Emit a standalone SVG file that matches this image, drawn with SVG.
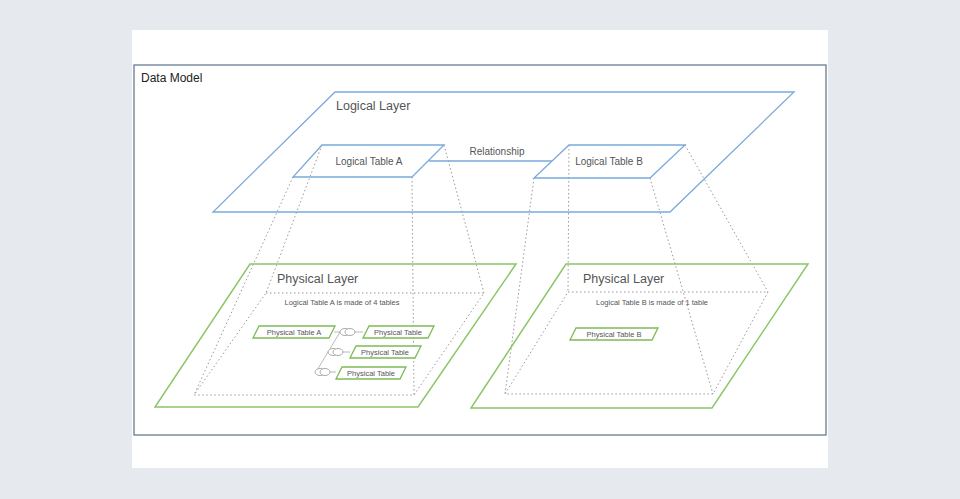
<svg xmlns="http://www.w3.org/2000/svg" width="960" height="499" viewBox="0 0 960 499">
<style>
text{font-family:"Liberation Sans",Arial,sans-serif;fill:#555}
.b{fill:none;stroke:#7aaadb;stroke-width:1.3}
.g{fill:none;stroke:#8cc56a;stroke-width:1.5}
.pt{fill:#fff;stroke:#7dbb55;stroke-width:1.3}
.d{fill:none;stroke:#999;stroke-width:1;stroke-dasharray:1.5 2.5}
.c{fill:#fff;stroke:#aaa;stroke-width:1}
.s{font-size:7.5px}
</style>
<rect width="960" height="499" fill="#e6eaee"/>
<rect x="132" y="30" width="696" height="438" fill="#fff"/>
<rect x="134" y="65" width="692" height="370" fill="none" stroke="#5a7088" stroke-width="1.2"/>
<text x="141" y="82" font-size="12" style="fill:#222">Data Model</text>
<g id="logical-layer"><polygon class="b" points="335,92 794,92 670,212 213,212"/><text x="336" y="110" font-size="12.5">Logical Layer</text></g>
<g id="connectors">
<line x1="429" y1="161" x2="552" y2="161" stroke="#7aaadb" stroke-width="1.3"/>
<line class="d" x1="322" y1="145" x2="266" y2="293"/>
<line class="d" x1="293" y1="177" x2="194" y2="395"/>
<line class="d" x1="412" y1="177" x2="414" y2="395"/>
<line class="d" x1="444" y1="145" x2="484" y2="293"/>
<line class="d" x1="569" y1="145" x2="568" y2="292"/>
<line class="d" x1="534" y1="178" x2="505" y2="394"/>
<line class="d" x1="650" y1="178" x2="713" y2="394"/>
<line class="d" x1="685" y1="145" x2="768" y2="292"/>
<g stroke="#bbb" stroke-width="1" fill="none">
<polyline points="334,332 363,332"/><polyline points="340,332 316,372 336,372"/><polyline points="328,352 350,352"/>
</g>
<g><ellipse class="c" cx="345" cy="332" rx="5" ry="3.5"/><ellipse class="c" cx="350" cy="332" rx="5" ry="3.5"/>
<ellipse class="c" cx="333" cy="352" rx="5" ry="3.5"/><ellipse class="c" cx="338" cy="352" rx="5" ry="3.5"/>
<ellipse class="c" cx="320" cy="372" rx="5" ry="3.5"/><ellipse class="c" cx="325" cy="372" rx="5" ry="3.5"/></g>
</g>
<text x="497" y="155" font-size="10" text-anchor="middle">Relationship</text>
<g id="logical-table-a"><polygon class="b" points="322,145 444,145 412,177 293,177" fill="#fff"/><text x="369" y="165" font-size="10" text-anchor="middle">Logical Table A</text></g>
<g id="logical-table-b"><polygon class="b" points="569,145 685,145 650,178 534,178" fill="#fff"/><text x="609" y="165" font-size="10" text-anchor="middle">Logical Table B</text></g>
<g id="physical-layer-a"><polygon class="g" points="250,264 516,264 418,407 155,407"/><text x="277" y="283" font-size="12.5">Physical Layer</text>
<polygon class="d" points="266,293 484,293 414,395 194,395"/><text x="342" y="305" class="s" text-anchor="middle">Logical Table A is made of 4 tables</text></g>
<g id="physical-layer-b"><polygon class="g" points="566,264 808,264 712,408 471,408"/><text x="583" y="283" font-size="12.5">Physical Layer</text>
<polygon class="d" points="568,292 768,292 713,394 505,394"/><text x="652" y="305" class="s" text-anchor="middle">Logical Table B is made of 1 table</text></g>
<g id="physical-table-a"><polygon class="pt" points="259,326 335,326 329,338 253,338"/><text x="294" y="335" class="s" text-anchor="middle">Physical Table A</text></g>
<g id="physical-table-1"><polygon class="pt" points="369,326 434,326 428,338 363,338"/><text x="398" y="335" class="s" text-anchor="middle">Physical Table</text></g>
<g id="physical-table-2"><polygon class="pt" points="356,346 421,346 415,358 350,358"/><text x="385" y="355" class="s" text-anchor="middle">Physical Table</text></g>
<g id="physical-table-3"><polygon class="pt" points="342,367 406,367 400,379 336,379"/><text x="371" y="376" class="s" text-anchor="middle">Physical Table</text></g>
<g id="physical-table-b"><polygon class="pt" points="576,328 658,328 652,340 570,340"/><text x="614" y="337" class="s" text-anchor="middle">Physical Table B</text></g>
</svg>
